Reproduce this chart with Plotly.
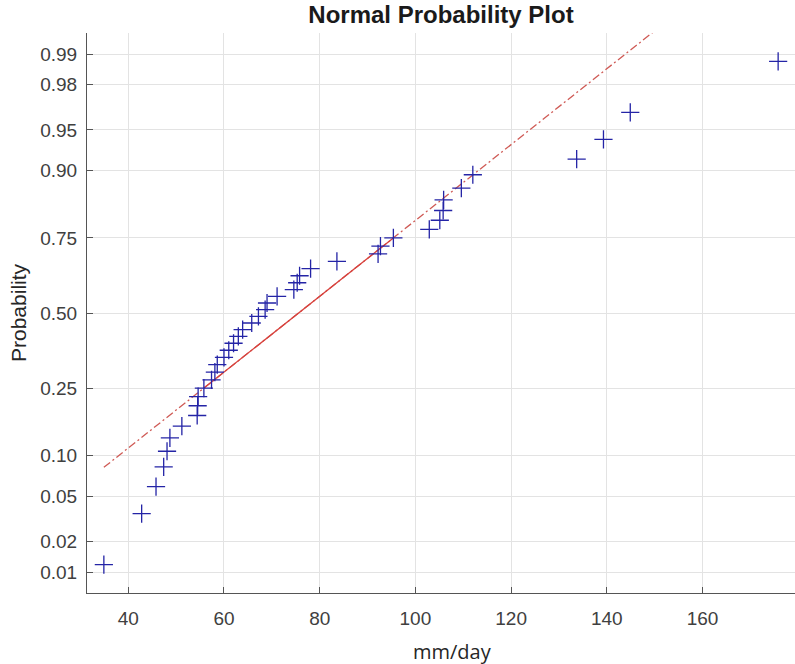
import numpy as np
import plotly.graph_objects as go
from statistics import NormalDist

# Sorted daily rainfall maxima (mm/day)
rain = [34.9, 42.8, 45.8, 47.4, 48.1, 48.7, 51.2, 54.4, 54.5, 54.6, 55.8,
        57.4, 58.1, 58.6, 60.0, 61.0, 62.0, 63.0, 63.9, 65.8, 67.2,
        68.6, 69.0, 71.1, 74.6, 75.3, 75.8, 78.1, 83.6, 92.2, 92.7,
        95.4, 102.9, 105.1, 105.8, 105.9, 109.6, 112.0, 133.7, 139.3, 144.9, 175.8]

prob_ticks = [0.01, 0.02, 0.05, 0.10, 0.25, 0.50, 0.75, 0.90, 0.95, 0.98, 0.99]
prob_labels = ["0.01", "0.02", "0.05", "0.10", "0.25", "0.50", "0.75", "0.90", "0.95", "0.98", "0.99"]
x_ticks = [40, 60, 80, 100, 120, 140, 160]

nd = NormalDist()
x = np.sort(np.array(rain))
n = len(x)
# plotting positions (i - 0.5)/n on the normal quantile scale
pos = [(i - 0.5) / n for i in range(1, n + 1)]
z = np.array([nd.inv_cdf(p) for p in pos])

# reference line through the quartiles
q1x, q3x = np.percentile(x, [25, 75], method="hazen")
q1y, q3y = np.percentile(z, [25, 75], method="hazen")
slope = (q3y - q1y) / (q3x - q1x)
cx, cy = (q1x + q3x) / 2, (q1y + q3y) / 2
minx, maxx = x.min(), x.max()
line_x = [minx, maxx]
line_y = [cy - slope * (cx - minx), cy + slope * (maxx - cx)]

ylim = nd.inv_cdf(1 - 0.25 / n)
span = maxx - minx
xlim = [minx - 0.025 * span, maxx + 0.025 * span]

red = "#d8413c"
fig = go.Figure()
fig.add_trace(go.Scatter(x=line_x, y=line_y, mode="lines",
                         line=dict(color="#cf5a55", width=1.3, dash="8px,3px,2px,3px"),
                         hoverinfo="skip"))
fig.add_trace(go.Scatter(x=[q1x, q3x], y=[q1y, q3y], mode="lines",
                         line=dict(color=red, width=1.3), hoverinfo="skip"))
fig.add_trace(go.Scatter(x=x, y=z, mode="markers",
                         marker=dict(symbol="cross-thin", size=13,
                                     line=dict(color="#2424a6", width=1.3))))

tick_font = dict(family="Liberation Sans, Arial, sans-serif", size=19, color="#404040")
fig.update_layout(
    width=795, height=664,
    margin=dict(l=87, r=0, t=33, b=71),
    plot_bgcolor="white", paper_bgcolor="white",
    showlegend=False,
    title=dict(text="<b>Normal Probability Plot</b>", xref="paper", x=0.5, xanchor="center",
               yref="container", y=1 - 15 / 664, yanchor="middle",
               font=dict(family="Liberation Sans, Arial, sans-serif", size=24, color="#1a1a1a")),
    xaxis=dict(range=xlim, tickvals=x_ticks, ticks="inside", ticklen=6, tickcolor="#555",
               showgrid=True, gridcolor="#e3e3e3", gridwidth=1, zeroline=False,
               showline=True, linecolor="#555", linewidth=1, mirror=False,
               tickfont=tick_font, ticklabelstandoff=8),
    yaxis=dict(range=[-ylim, ylim], tickvals=[nd.inv_cdf(p) for p in prob_ticks],
               ticktext=prob_labels, ticks="inside", ticklen=6, tickcolor="#555",
               showgrid=True, gridcolor="#e3e3e3", gridwidth=1, zeroline=False,
               showline=True, linecolor="#555", linewidth=1, mirror=False,
               tickfont=tick_font, ticklabelstandoff=5),
    annotations=[
        dict(text="Probability", textangle=-90, xref="paper", yref="paper",
             x=(18 - 87) / 708, y=0.5, xanchor="center", yanchor="middle", showarrow=False,
             font=dict(family="Liberation Sans, Arial, sans-serif", size=21, color="#262626")),
        dict(text="mm/day", xref="paper", yref="paper",
             x=(453 - 87) / 708, y=(593 - 651) / 560, xanchor="center", yanchor="middle",
             showarrow=False,
             font=dict(family="Open Sans, sans-serif", size=20, color="#262626")),
    ],
)

fig.write_html("out.html")
